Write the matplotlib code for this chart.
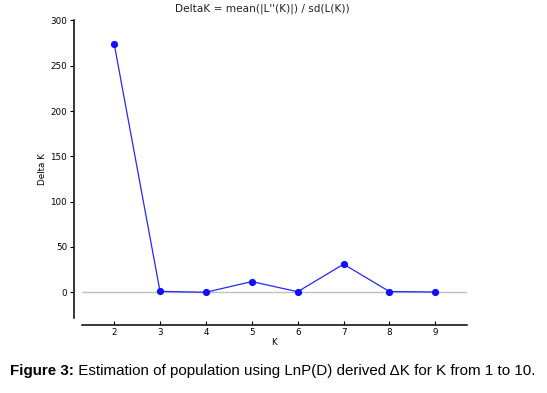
import matplotlib
matplotlib.use("Agg")
import matplotlib.pyplot as plt

K = [2, 3, 4, 5, 6, 7, 8, 9]
delta_k = [274.5, 1.0, 0.0, 11.8, 0.6, 31.0, 0.8, 0.3]
y_ticks = [0, 50, 100, 150, 200, 250, 300]

fig = plt.figure(figsize=(5.47, 3.93), dpi=100)
ax = fig.add_axes([82/547, 75/393, 385/547, 298/393])

ax.axhline(0, color="#c0c0c0", lw=1.0, zorder=1)
ax.plot(K, delta_k, color="#2828f0", lw=0.9, marker="o", markersize=4.2,
        markerfacecolor="#1010ff", markeredgecolor="#1010ff", zorder=3)

ax.set_xlim(1.3, 9.69)
ax.set_ylim(-28.4, 300.5)
ax.set_xticks(K)
ax.set_yticks(y_ticks)

for s in ["top", "right"]:
    ax.spines[s].set_visible(False)
ax.spines["left"].set_position(("outward", 8 * 72 / 100))
ax.spines["bottom"].set_position(("outward", 7 * 72 / 100))
ax.spines["left"].set_linewidth(1.1)
ax.spines["bottom"].set_linewidth(1.1)

ax.tick_params(axis="x", direction="in", length=3, width=0.8, labelsize=6.3, pad=2)
ax.tick_params(axis="y", direction="out", length=3, width=0.8, labelsize=6.3, pad=2)

ax.set_title("DeltaK = mean(|L''(K)|) / sd(L(K))", fontsize=7.6, pad=6,
             color="#222222", x=(262 - 82) / 385)
ax.set_xlabel("K", fontsize=6.3, labelpad=1)
ax.set_ylabel("Delta K", fontsize=6.3, labelpad=2)

t1 = fig.text(10/547, 1 - 375/393, "Figure 3:", fontsize=10.9, fontweight="bold",
              family="Liberation Sans", va="baseline", ha="left")
fig.canvas.draw()
ax.annotate(" Estimation of population using LnP(D) derived \u0394K for K from 1 to 10.",
            xy=(1, 0), xycoords=t1, fontsize=10.9, family="Liberation Sans",
            va="bottom", ha="left", annotation_clip=False)

fig.savefig("out.png", dpi=100)
